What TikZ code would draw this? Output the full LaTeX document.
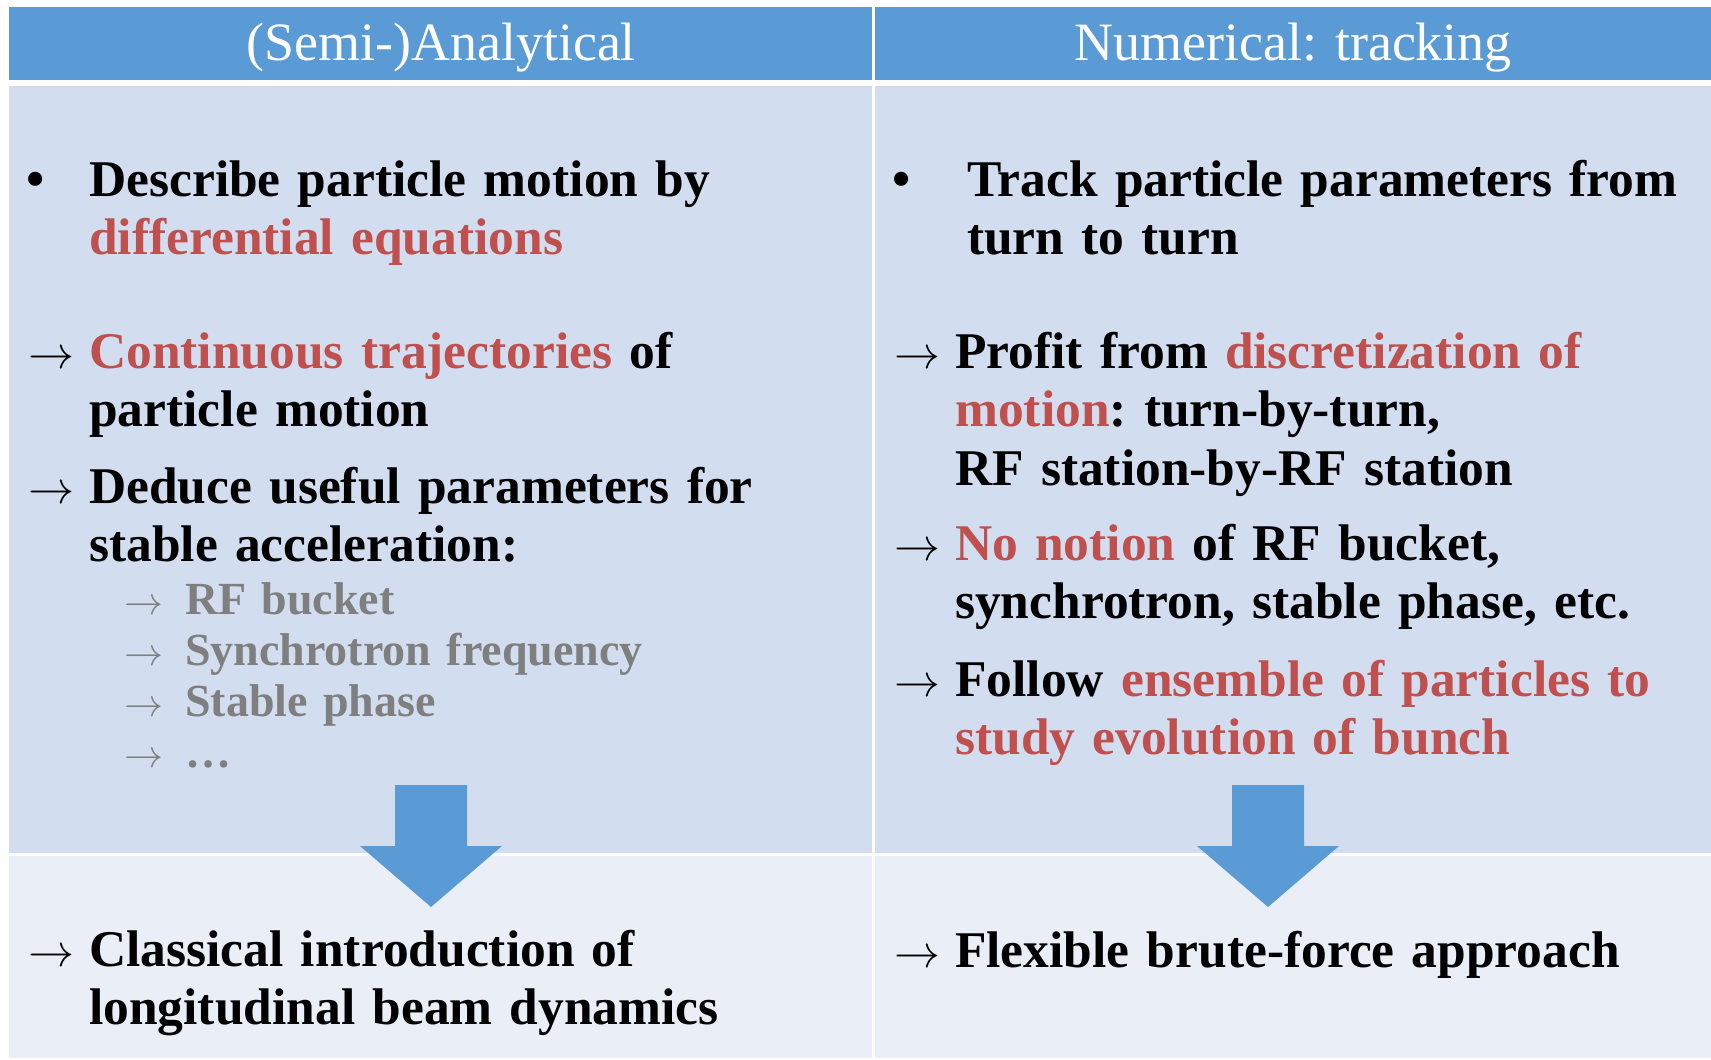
\RequirePackage{fix-cm}
\documentclass[tikz,border=0pt]{standalone}
\usepackage{fontspec}
\setmainfont{Liberation Serif}

\definecolor{headblue}{HTML}{5B9BD5}
\definecolor{cellblue}{HTML}{D2DEEF}
\definecolor{cellpale}{HTML}{EAEFF7}
\definecolor{accent}{HTML}{C0504D}
\definecolor{subgray}{HTML}{7F7F7F}
\newcommand{\redtxt}[1]{\textcolor{accent}{#1}}

\begin{document}
\begin{tikzpicture}[x=1pt,y=-1pt]
  \tikzset{
    head/.style={font=\fontsize{54}{60}\selectfont,text=white,anchor=base,inner sep=0pt},
    txt/.style={font=\fontsize{51.5}{58.5}\selectfont\bfseries\frenchspacing,align=left,text width=740pt,anchor=base west,inner sep=0pt},
    subtxt/.style={font=\fontsize{46}{51}\selectfont\bfseries,text=subgray,align=left,text width=600pt,anchor=base west,inner sep=0pt},
    arr/.style={font=\fontsize{46}{58.5}\selectfont,anchor=base west,inner sep=0pt},
    subarr/.style={font=\fontsize{39}{51}\selectfont,text=subgray,align=left,text width=50pt,anchor=base west,inner sep=0pt},
    bull/.style={font=\fontsize{52}{58}\selectfont\bfseries,anchor=base,inner sep=0pt},
    blockarr/.style={fill=headblue}
  }
  \useasboundingbox (0,0) rectangle (1711,1060);
  \fill[white] (0,0) rectangle (1711,1060);

  % Table cells
  \fill[headblue] (9,7) rectangle (872,80);
  \fill[headblue] (875,7) rectangle (1711,80);
  \fill[cellblue] (9,86) rectangle (872,853);
  \fill[cellblue] (875,86) rectangle (1711,853);
  \fill[cellpale] (9,856) rectangle (872,1058);
  \fill[cellpale] (875,856) rectangle (1711,1058);

  % Column headers
  \node[head] (hleft) at (441,60) {(Semi-)Analytical};
  \node[head] (hright) at (1293,60) {Numerical: tracking};

  % Left column
  \node[bull] (bl) at (36,196) {\textbullet};
  \node[txt] (describe) at (89,196)
    {Describe particle motion by\\\redtxt{differential equations}};
  \node[arr] (al1) at (28,368) {$\rightarrow$};
  \node[txt] (contin) at (89,368)
    {\redtxt{Continuous trajectories} of\\particle motion};
  \node[arr] (al2) at (28,503) {$\rightarrow$};
  \node[txt] (deduce) at (89,503)
    {Deduce useful parameters for\\stable acceleration:};
  \node[subarr] (subarrs) at (124,614)
    {$\rightarrow$\\$\rightarrow$\\$\rightarrow$\\$\rightarrow$};
  \node[subtxt] (params) at (185,614)
    {RF bucket\\Synchrotron frequency\\Stable phase\\\dots};

  % Right column
  \node[bull] (br) at (902,196) {\textbullet};
  \node[txt] (track) at (967,196)
    {Track particle parameters from\\turn to turn};
  \node[arr] (ar1) at (894,368) {$\rightarrow$};
  \node[txt] (profit) at (955,368)
    {Profit from \redtxt{discretization of}\\\redtxt{motion}: turn-by-turn,\\RF station-by-RF station};
  \node[arr] (ar2) at (894,560) {$\rightarrow$};
  \node[txt] (nonotion) at (955,560)
    {\redtxt{No notion} of RF bucket,\\synchrotron, stable phase, etc.};
  \node[arr] (ar3) at (894,696) {$\rightarrow$};
  \node[txt] (follow) at (955,696)
    {Follow \redtxt{ensemble of particles to}\\\redtxt{study evolution of bunch}};

  % Block arrows down to the conclusions
  \coordinate (dl) at (431,785);
  \coordinate (dr) at (1268,785);
  \fill[blockarr] (dl) ++(-36,0) -- ++(72,0) -- ++(0,61) -- ++(35,0)
    -- ++(-71,61) -- ++(-71,-61) -- ++(35,0) -- cycle;
  \fill[blockarr] (dr) ++(-36,0) -- ++(72,0) -- ++(0,61) -- ++(35,0)
    -- ++(-71,61) -- ++(-71,-61) -- ++(35,0) -- cycle;

  % Conclusions
  \node[arr] (al3) at (28,966) {$\rightarrow$};
  \node[txt] (classic) at (89,966)
    {Classical introduction of\\longitudinal beam dynamics};
  \node[arr] (ar4) at (894,967) {$\rightarrow$};
  \node[txt] (brute) at (955,967) {Flexible brute-force approach};
\end{tikzpicture}
\end{document}
